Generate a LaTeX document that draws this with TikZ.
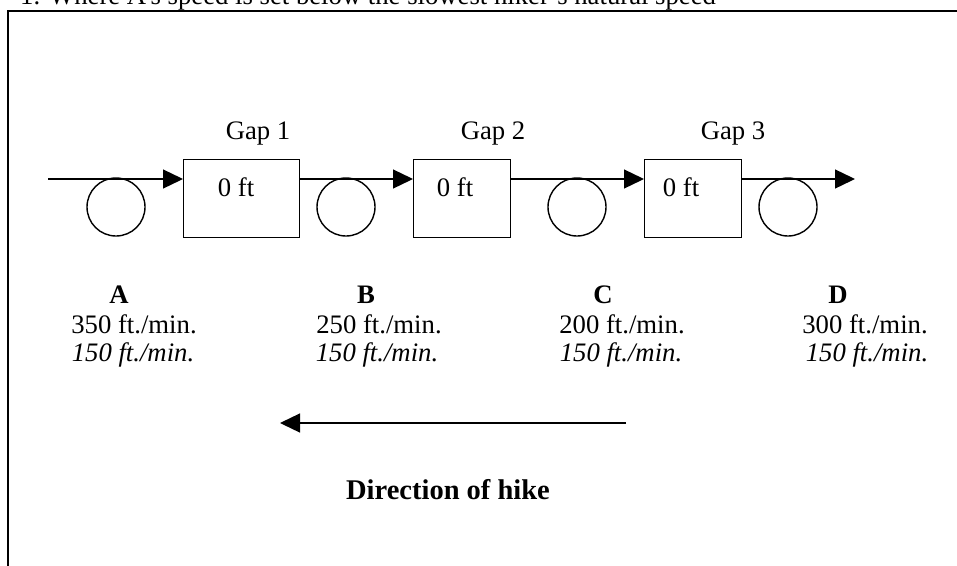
\documentclass[tikz,border=0pt]{standalone}
\usepackage{fontspec}
\setmainfont{Liberation Serif}
\usetikzlibrary{arrows.meta}
\begin{document}
\begin{tikzpicture}[x=1pt,y=-1pt,
  txt/.style={font=\fontsize{26.7}{30}\selectfont, inner sep=0pt, anchor=base},
  btxt/.style={font=\fontsize{26.7}{30}\selectfont\bfseries, inner sep=0pt, anchor=base},
  itxt/.style={font=\fontsize{26.7}{30}\selectfont\itshape, inner sep=0pt, anchor=base},
  gapbox/.style={draw, line width=1.3pt, rectangle, minimum height=78pt, inner sep=0pt, anchor=north west},
  hiker/.style={draw, line width=1.4pt, circle, minimum size=58pt, inner sep=0pt},
  flow/.style={line width=1.3pt, -{Triangle[length=20pt,width=19pt]}},
  frame/.style={line width=2pt}]
\useasboundingbox (0,0) rectangle (957,565);
\clip (0,0) rectangle (957,565);
% frame and title
\node[txt, anchor=base west] (title) at (20,4.5) {1. Where A's speed is set below the slowest hiker's natural speed};
\draw[frame] (8,600) -- (8,11) -- (990,11);
% gap boxes
\node[gapbox, minimum width=116pt] (g1) at (183,159) {};
\node[gapbox, minimum width=97pt] (g2) at (413,159) {};
\node[gapbox, minimum width=97pt] (g3) at (644,159) {};
\node[txt] (z1) at (236,196) {0 ft};
\node[txt] (z2) at (455,196) {0 ft};
\node[txt] (z3) at (681,196) {0 ft};
\node[txt] (gl1) at (258,139) {Gap 1};
\node[txt] (gl2) at (493,139) {Gap 2};
\node[txt] (gl3) at (733,139) {Gap 3};
% hikers
\node[hiker] (hA) at (116,207) {};
\node[hiker] (hB) at (346,207) {};
\node[hiker] (hC) at (577,207) {};
\node[hiker] (hD) at (788,207) {};
% flow arrows
\coordinate (s0) at (48,179);
\coordinate (e4) at (855,179);
\draw[flow] (s0) -- (s0 -| g1.west);
\draw[flow] (g1.east |- s0) -- (s0 -| g2.west);
\draw[flow] (g2.east |- s0) -- (s0 -| g3.west);
\draw[flow] (g3.east |- s0) -- (e4);
% labels
\node[btxt] (lA) at (119,303) {A};
\node[btxt] (lB) at (366,303) {B};
\node[btxt] (lC) at (603,303) {C};
\node[btxt] (lD) at (838,303) {D};
\node[txt] (sA) at (134,333) {350 ft./min.};
\node[txt] (sB) at (379,333) {250 ft./min.};
\node[txt] (sC) at (622,333) {200 ft./min.};
\node[txt] (sD) at (865,333) {300 ft./min.};
\node[itxt] (iA) at (133,361) {150 ft./min.};
\node[itxt] (iB) at (377,361) {150 ft./min.};
\node[itxt] (iC) at (621,361) {150 ft./min.};
\node[itxt] (iD) at (867,361) {150 ft./min.};
% direction
\coordinate (d1) at (626,423);
\coordinate (d0) at (280,423);
\draw[flow] (d1) -- (d0);
\node[btxt, font=\fontsize{28.5}{32}\selectfont\bfseries] (dir) at (448,499) {Direction of hike};
\end{tikzpicture}
\end{document}
